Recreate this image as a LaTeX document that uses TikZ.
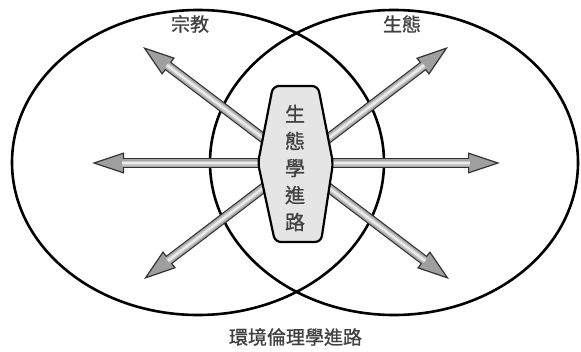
\documentclass[tikz,border=0pt]{standalone}
\usepackage{fontspec}
\newfontfamily\cjk[BoldFont={Noto Sans CJK TC}, BoldFeatures={FakeBold=0.9}]{Noto Sans CJK TC}
\usetikzlibrary{arrows.meta}
\tikzset{
  ring/.style={draw=black, line width=2.6pt},
  dblarrow/.style={line width=10pt, draw=black!80, {Triangle[length=32pt,width=21pt,line width=1.2pt,fill=gray!75]}-{Triangle[length=32pt,width=21pt,line width=1.2pt,fill=gray!75]}},
  shine/.style={shorten <=30pt, shorten >=30pt},
  label/.style={font=\cjk\bfseries\fontsize{19pt}{22pt}\selectfont, text=black!75, inner sep=0pt},
  core/.style={draw=black, line width=2.2pt, fill=gray!20, rounded corners=6pt}
}
\begin{document}
\begin{tikzpicture}[x=1pt,y=-1pt]
\useasboundingbox (0,0) rectangle (581,351);
% ellipses
\draw[ring] (198,162.5) ellipse [x radius=186, y radius=152.5];
\draw[ring] (394,162.5) ellipse [x radius=184, y radius=152.5];
% arrow end points
\coordinate (ul) at (143,47);
\coordinate (lr) at (449,279);
\coordinate (ur) at (448,47);
\coordinate (ll) at (144,279);
\coordinate (l) at (92,163);
\coordinate (r) at (500,163);
% arrows
\foreach \a/\b in {ul/lr, ur/ll, l/r}{
  \draw[dblarrow] (\a) -- (\b);
  \draw[shine, line width=7.6pt, gray!70] (\a) -- (\b);
  \draw[shine, line width=5pt, gray!45] (\a) -- (\b);
  \draw[shine, line width=2.2pt, gray!15] (\a) -- (\b);
}
% central hexagon
\draw[core] (273,86) -- (318,86) -- (333,163) -- (321,242) -- (275,242) -- (258,163) -- cycle;
\node[label, align=center, font=\cjk\bfseries\fontsize{20pt}{27pt}\selectfont] (eco) at (295,168) {生\\態\\學\\進\\路};
% labels
\node[label] (rel) at (190,24) {宗教};
\node[label] (ecol) at (402,24) {生態};
\node[label] (env) at (295.5,337) {環境倫理學進路};
\end{tikzpicture}
\end{document}
